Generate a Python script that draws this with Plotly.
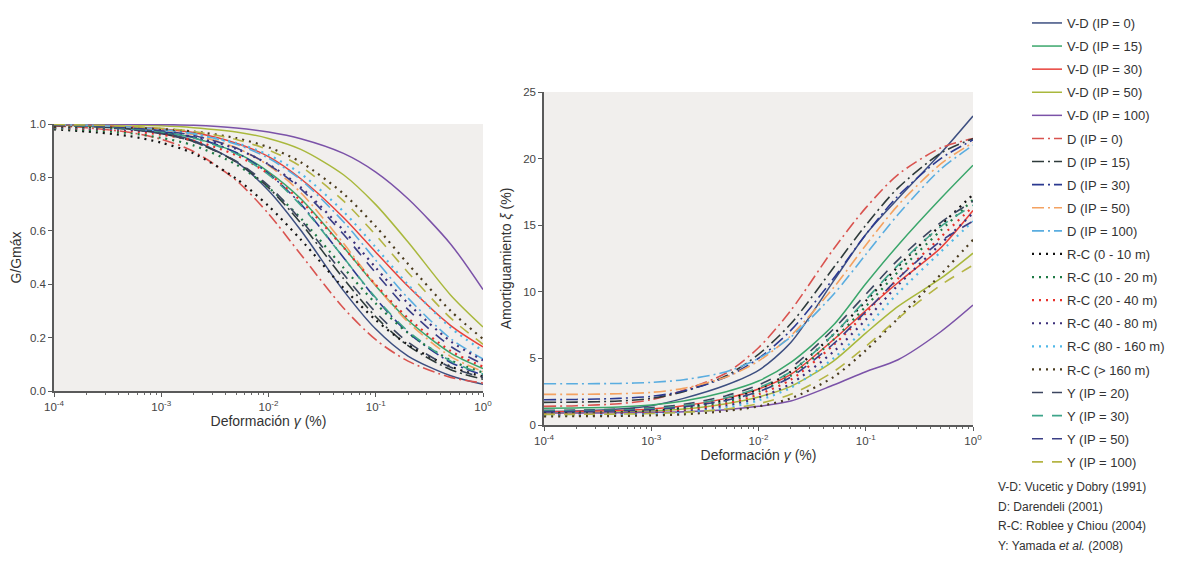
import plotly.graph_objects as go

# ---------------- data ----------------
strain = [1e-4, 2e-4, 5e-4, 1e-3, 2e-3, 5e-3, 1e-2, 2e-2, 5e-2, 0.1, 0.2, 0.5, 1.0]

x_tickvals = [1e-4, 1e-3, 1e-2, 1e-1, 1.0]
x_ticktext = ["10<sup>-4</sup>", "10<sup>-3</sup>", "10<sup>-2</sup>", "10<sup>-1</sup>", "10<sup>0</sup>"]
x_minor_vals = [m * 10.0 ** e for e in range(-4, 0) for m in range(2, 10)]

series_names = [
    "V-D (IP = 0)", "V-D (IP = 15)", "V-D (IP = 30)", "V-D (IP = 50)", "V-D (IP = 100)",
    "D (IP = 0)", "D (IP = 15)", "D (IP = 30)", "D (IP = 50)", "D (IP = 100)",
    "R-C (0 - 10 m)", "R-C (10 - 20 m)", "R-C (20 - 40 m)", "R-C (40 - 80 m)",
    "R-C (80 - 160 m)", "R-C (> 160 m)",
    "Y (IP = 20)", "Y (IP = 30)", "Y (IP = 50)", "Y (IP = 100)",
]

# G/Gmax values (left chart)
g_vd0 = [0.997, 0.993, 0.983, 0.968, 0.938, 0.858, 0.751, 0.602, 0.376, 0.232, 0.131, 0.057, 0.025]
g_vd15 = [0.996, 0.992, 0.983, 0.970, 0.948, 0.893, 0.821, 0.720, 0.539, 0.394, 0.265, 0.142, 0.084]
g_vd30 = [0.998, 0.996, 0.990, 0.982, 0.968, 0.928, 0.878, 0.795, 0.650, 0.520, 0.392, 0.245, 0.165]
g_vd50 = [0.999, 0.998, 0.996, 0.993, 0.986, 0.970, 0.946, 0.905, 0.810, 0.698, 0.558, 0.359, 0.240]
g_vd100 = [1.0, 1.0, 0.999, 0.998, 0.995, 0.985, 0.970, 0.945, 0.890, 0.820, 0.720, 0.550, 0.380]
g_d0 = [0.993, 0.986, 0.969, 0.943, 0.897, 0.789, 0.664, 0.511, 0.311, 0.192, 0.112, 0.051, 0.030]
g_d15 = [0.995, 0.992, 0.981, 0.964, 0.934, 0.858, 0.762, 0.629, 0.421, 0.278, 0.170, 0.080, 0.044]
g_d30 = [0.997, 0.994, 0.986, 0.973, 0.951, 0.893, 0.815, 0.700, 0.500, 0.346, 0.219, 0.107, 0.060]
g_d50 = [0.997, 0.995, 0.988, 0.978, 0.960, 0.911, 0.845, 0.743, 0.553, 0.396, 0.258, 0.129, 0.073]
g_d100 = [0.997, 0.995, 0.989, 0.980, 0.964, 0.924, 0.872, 0.791, 0.634, 0.490, 0.348, 0.196, 0.120]
g_rc1 = [0.980, 0.972, 0.955, 0.930, 0.890, 0.795, 0.693, 0.567, 0.386, 0.266, 0.173, 0.091, 0.054]
g_rc2 = [0.983, 0.978, 0.966, 0.948, 0.920, 0.848, 0.762, 0.647, 0.462, 0.328, 0.217, 0.115, 0.069]
g_rc3 = [0.985, 0.982, 0.974, 0.960, 0.938, 0.883, 0.813, 0.712, 0.538, 0.398, 0.273, 0.150, 0.091]
g_rc4 = [0.986, 0.984, 0.978, 0.968, 0.951, 0.907, 0.849, 0.763, 0.602, 0.462, 0.328, 0.186, 0.115]
g_rc5 = [0.987, 0.986, 0.982, 0.976, 0.962, 0.929, 0.884, 0.814, 0.672, 0.538, 0.398, 0.237, 0.150]
g_rc6 = [0.988, 0.987, 0.985, 0.981, 0.972, 0.947, 0.913, 0.857, 0.739, 0.616, 0.476, 0.300, 0.195]
g_y20 = [0.995, 0.991, 0.980, 0.964, 0.934, 0.861, 0.769, 0.641, 0.438, 0.295, 0.183, 0.089, 0.050]
g_y30 = [0.996, 0.993, 0.984, 0.971, 0.948, 0.888, 0.810, 0.696, 0.500, 0.349, 0.224, 0.112, 0.063]
g_y50 = [0.996, 0.994, 0.986, 0.975, 0.957, 0.910, 0.848, 0.757, 0.587, 0.442, 0.305, 0.167, 0.100]
g_y100 = [0.998, 0.996, 0.991, 0.984, 0.972, 0.942, 0.903, 0.841, 0.712, 0.584, 0.444, 0.273, 0.175]

# Damping values in % (right chart)
d_vd0 = [1.0, 1.05, 1.2, 1.45, 2.0, 3.0, 4.1, 6.2, 10.8, 14.3, 17.0, 20.4, 23.2]
d_vd15 = [1.25, 1.28, 1.35, 1.5, 1.8, 2.5, 3.3, 4.7, 7.5, 10.6, 13.5, 17.0, 19.5]
d_vd30 = [1.0, 1.02, 1.08, 1.2, 1.45, 2.0, 2.7, 3.8, 6.4, 8.6, 10.7, 13.3, 16.1]
d_vd50 = [0.9, 0.92, 0.97, 1.05, 1.2, 1.6, 2.1, 2.9, 4.8, 6.9, 8.9, 11.0, 12.9]
d_vd100 = [0.9, 0.9, 0.92, 0.95, 1.0, 1.15, 1.4, 1.8, 3.0, 4.0, 4.9, 7.0, 9.0]
d_d0 = [1.4, 1.45, 1.6, 1.9, 2.6, 3.9, 5.8, 8.6, 13.2, 16.3, 18.8, 20.8, 21.5]
d_d15 = [1.7, 1.72, 1.8, 2.0, 2.5, 3.7, 5.3, 7.6, 11.8, 15.0, 17.8, 20.4, 21.5]
d_d30 = [1.9, 1.92, 2.0, 2.15, 2.55, 3.6, 5.0, 7.1, 11.0, 14.3, 17.2, 20.0, 21.4]
d_d50 = [2.3, 2.3, 2.35, 2.45, 2.75, 3.6, 4.8, 6.7, 10.3, 13.5, 16.5, 19.6, 21.2]
d_d100 = [3.1, 3.1, 3.12, 3.2, 3.4, 4.0, 5.0, 6.6, 9.8, 12.8, 15.8, 19.2, 21.0]
d_rc1 = [0.9, 0.92, 0.95, 1.05, 1.3, 1.9, 2.7, 4.0, 6.8, 9.3, 11.9, 15.0, 17.3]
d_rc2 = [0.85, 0.87, 0.9, 0.98, 1.2, 1.75, 2.5, 3.7, 6.4, 8.9, 11.5, 14.6, 16.9]
d_rc3 = [0.8, 0.82, 0.85, 0.92, 1.1, 1.6, 2.3, 3.4, 6.0, 8.4, 11.0, 14.1, 16.4]
d_rc4 = [0.75, 0.77, 0.8, 0.86, 1.0, 1.45, 2.05, 3.1, 5.5, 7.9, 10.5, 13.6, 15.9]
d_rc5 = [0.7, 0.72, 0.75, 0.8, 0.92, 1.3, 1.85, 2.8, 5.0, 7.3, 9.9, 13.0, 15.3]
d_rc6 = [0.65, 0.66, 0.68, 0.72, 0.8, 1.05, 1.4, 2.0, 3.6, 5.6, 8.0, 11.3, 13.9]
d_y20 = [1.1, 1.12, 1.18, 1.3, 1.55, 2.2, 3.0, 4.3, 7.2, 9.8, 12.4, 15.2, 16.8]
d_y30 = [1.05, 1.07, 1.12, 1.22, 1.45, 2.05, 2.8, 4.0, 6.8, 9.4, 12.0, 14.9, 16.5]
d_y50 = [1.0, 1.02, 1.06, 1.15, 1.35, 1.85, 2.5, 3.6, 6.1, 8.5, 11.0, 13.8, 15.3]
d_y100 = [0.8, 0.8, 0.82, 0.86, 0.95, 1.2, 1.6, 2.3, 4.0, 5.9, 8.0, 10.5, 12.0]

g_values = [g_vd0, g_vd15, g_vd30, g_vd50, g_vd100, g_d0, g_d15, g_d30, g_d50, g_d100,
            g_rc1, g_rc2, g_rc3, g_rc4, g_rc5, g_rc6, g_y20, g_y30, g_y50, g_y100]
d_values = [d_vd0, d_vd15, d_vd30, d_vd50, d_vd100, d_d0, d_d15, d_d30, d_d50, d_d100,
            d_rc1, d_rc2, d_rc3, d_rc4, d_rc5, d_rc6, d_y20, d_y30, d_y50, d_y100]

# ---------------- styles ----------------
colors = [
    "#3d4f80", "#3aa66b", "#e8413a", "#a9b83c", "#7b52a8",
    "#d9534f", "#2e3b3b", "#2b3990", "#f4a261", "#5aade0",
    "#111111", "#1e7a45", "#e8302a", "#3b2f7a", "#4fb8e8", "#4a3b1e",
    "#3c4660", "#3ea58a", "#3b3f86", "#b5b544",
]
DASHDOT = "12px,4px,2px,4px"
DOT = "2px,5px"
DASH = "11px,9px"
dashes = ["solid"] * 5 + [DASHDOT] * 5 + [DOT] * 6 + [DASH] * 4
widths = [1.5] * 5 + [1.6] * 5 + [2.2] * 6 + [1.6] * 4

FONT = "Liberation Sans, Arial, sans-serif"

fig = go.Figure()
for i, name in enumerate(series_names):
    line = dict(color=colors[i], dash=dashes[i], width=widths[i], shape="spline", smoothing=0.8)
    fig.add_trace(go.Scatter(x=strain, y=g_values[i], mode="lines", name=name, line=line,
                             xaxis="x", yaxis="y", showlegend=False, legendgroup=f"g{i}"))
for i, name in enumerate(series_names):
    line = dict(color=colors[i], dash=dashes[i], width=widths[i], shape="spline", smoothing=0.8)
    fig.add_trace(go.Scatter(x=strain, y=d_values[i], mode="lines", name=name, line=line,
                             xaxis="x2", yaxis="y2", showlegend=True, legendgroup=f"g{i}"))

# page body has an 8px margin: the figure is made 8px smaller and coordinates
# below are given in screen pixels of the final 1202x561 picture
OFF = 8
W, H = 1202 - OFF, 561 - OFF


def px(x):
    return (x - OFF) / W


def py(y):
    return 1 - (y - OFF) / H


axis_common = dict(
    showline=True, linecolor="#5a5a5a", linewidth=1.5, mirror=False,
    ticks="outside", ticklen=4, tickcolor="#5a5a5a", tickwidth=1,
    showgrid=False, zeroline=False, automargin=False,
    tickfont=dict(size=11.5, color="#444", family=FONT),
)
xaxis_common = dict(
    type="log", range=[-4, 0], tickvals=x_tickvals, ticktext=x_ticktext,
    minor=dict(ticks="outside", ticklen=2.5, tickcolor="#6a6a6a", tickwidth=1,
               tickvals=x_minor_vals, showgrid=False),
    **axis_common,
)

fig.update_layout(
    width=W, height=H, autosize=False,
    margin=dict(l=0, r=0, t=0, b=0),
    paper_bgcolor="white", plot_bgcolor="#f1efed",
    font=dict(family=FONT, color="#333"),
    xaxis=dict(domain=[px(54), px(483)], anchor="y",
               title=dict(text="Deformación <i>γ</i> (%)", font=dict(size=14, color="#333"), standoff=4),
               **xaxis_common),
    yaxis=dict(domain=[py(391), py(124)], anchor="x", range=[0, 1], dtick=0.2, tickformat=".1f",
               title=dict(text="G/Gmáx", font=dict(size=14, color="#333"), standoff=9),
               **axis_common),
    xaxis2=dict(domain=[px(544), px(973)], anchor="y2",
                title=dict(text="Deformación <i>γ</i> (%)", font=dict(size=14, color="#333"), standoff=4),
                **xaxis_common),
    yaxis2=dict(domain=[py(425), py(92)], anchor="x2", range=[0, 25], dtick=5,
                title=dict(text="Amortiguamiento <i>ξ</i> (%)", font=dict(size=14, color="#333"), standoff=8),
                **axis_common),
    legend=dict(x=px(1027), xanchor="left", y=1, yanchor="top",
                font=dict(size=13, color="#333", family=FONT),
                tracegroupgap=3.2, bgcolor="rgba(0,0,0,0)", itemwidth=30,
                traceorder="grouped"),
)

notes = [
    "V-D: Vucetic y Dobry (1991)",
    "D: Darendeli (2001)",
    "R-C: Roblee y Chiou (2004)",
    "Y: Yamada <i>et al.</i> (2008)",
]
for k, t in enumerate(notes):
    fig.add_annotation(text=t, x=px(996), y=py(487 + k * 19.5), xref="paper", yref="paper",
                       xanchor="left", yanchor="middle", showarrow=False,
                       font=dict(size=12, color="#333", family=FONT))

fig.write_html("out.html")
